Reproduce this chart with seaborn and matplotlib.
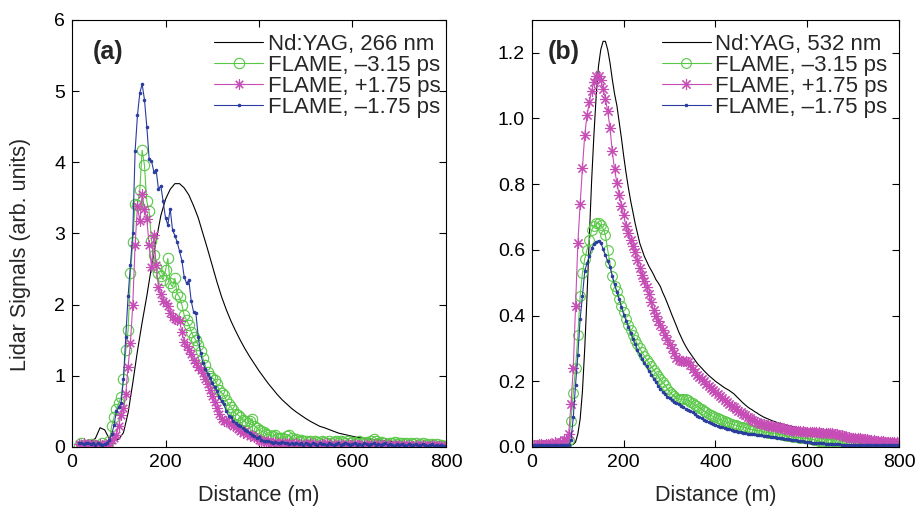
import matplotlib
matplotlib.use("Agg")
import matplotlib.pyplot as plt
import numpy as np
import seaborn as sns

# ──────────────────────────────────────────────────────────────────────────────
# Data
# ──────────────────────────────────────────────────────────────────────────────
# range gates (m)
DIST_A = np.arange(15, 801, 5)        # FLAME traces, panel (a)
DIST_B = np.arange(5, 801, 5)         # all traces, panel (b)
YAG_A_DIST = np.arange(20, 801, 10)   # Nd:YAG trace, panel (a)

LABELS_A = ["Nd:YAG, 266 nm", "FLAME, –3.15 ps", "FLAME, +1.75 ps", "FLAME, –1.75 ps"]
LABELS_B = ["Nd:YAG, 532 nm", "FLAME, –3.15 ps", "FLAME, +1.75 ps", "FLAME, –1.75 ps"]

YAG_A = [
    0.08, 0.08, 0.08, 0.12, 0.27, 0.24, 0.11, 0.09, 0.11, 0.20,
    0.48, 0.90, 1.35, 1.75, 2.12, 2.53, 2.90, 3.25, 3.48, 3.62,
    3.70, 3.70, 3.64, 3.54, 3.39, 3.22, 3.00, 2.78, 2.55, 2.32,
    2.11, 1.93, 1.77, 1.63, 1.50, 1.38, 1.27, 1.17, 1.07, 0.98,
    0.89, 0.81, 0.73, 0.66, 0.60, 0.54, 0.49, 0.445, 0.40, 0.36,
    0.325, 0.29, 0.27, 0.245, 0.22, 0.195, 0.18, 0.165, 0.15, 0.135,
    0.125, 0.12, 0.11, 0.10, 0.095, 0.085, 0.08, 0.075, 0.07, 0.065,
    0.06, 0.057, 0.05, 0.05, 0.047, 0.045, 0.04, 0.04, 0.04,
]

GREEN_A = [
    0.02, 0.05, 0.00, 0.03, -0.02, 0.04, 0.01, 0.03, -0.03, 0.02,
    0.05, -0.02, 0.01, 0.08, 0.30, 0.42, 0.54, 0.62, 0.70, 0.96,
    1.36, 1.64, 2.44, 2.88, 3.42, 3.40, 3.61, 4.17, 3.96, 3.45,
    3.31, 2.90, 2.70, 2.53, 2.45, 2.40, 2.35, 2.48, 2.65, 2.30,
    2.25, 2.37, 2.15, 2.11, 2.00, 1.85, 1.78, 1.72, 1.62, 1.55,
    1.50, 1.43, 1.35, 1.25, 1.15, 1.05, 1.00, 0.97, 0.94, 0.88,
    0.80, 0.76, 0.73, 0.66, 0.60, 0.56, 0.52, 0.47, 0.45, 0.42,
    0.38, 0.36, 0.33, 0.36, 0.40, 0.30, 0.27, 0.24, 0.22, 0.21,
    0.18, 0.17, 0.16, 0.15, 0.17, 0.13, 0.12, 0.13, 0.11, 0.15,
    0.17, 0.12, 0.10, 0.11, 0.09, 0.10, 0.08, 0.09, 0.07, 0.09,
    0.06, 0.08, 0.07, 0.05, 0.08, 0.07, 0.06, 0.08, 0.05, 0.07,
    0.09, 0.06, 0.08, 0.07, 0.05, 0.08, 0.06, 0.07, 0.05, 0.06,
    0.08, 0.05, 0.06, 0.07, 0.05, 0.09, 0.11, 0.08, 0.06, 0.07,
    0.05, 0.06, 0.04, 0.06, 0.05, 0.07, 0.04, 0.05, 0.06, 0.04,
    0.05, 0.03, 0.05, 0.04, 0.06, 0.03, 0.04, 0.05, 0.03, 0.04,
    0.02, 0.04, 0.03, 0.04, 0.02, 0.03, 0.01, 0.01,
]

MAGENTA_A = [
    0.04, 0.03, 0.05, 0.03, 0.04, 0.02, 0.04, 0.03, 0.02, 0.04,
    0.03, 0.02, 0.03, 0.05, 0.10, 0.13, 0.17, 0.30, 0.45, 0.55,
    0.75, 1.13, 1.46, 2.00, 2.84, 3.38, 3.17, 3.55, 3.35, 3.20,
    2.84, 2.53, 2.98, 2.55, 2.25, 2.15, 2.05, 2.03, 1.98, 1.88,
    1.83, 1.80, 1.79, 1.77, 1.62, 1.48, 1.42, 1.36, 1.30, 1.22,
    1.18, 1.12, 1.08, 1.04, 0.95, 0.88, 0.80, 0.72, 0.63, 0.55,
    0.47, 0.40, 0.37, 0.36, 0.33, 0.32, 0.30, 0.28, 0.25, 0.23,
    0.20, 0.22, 0.18, 0.16, 0.17, 0.14, 0.12, 0.10, 0.09, 0.08,
    0.07, 0.08, 0.06, 0.05, 0.07, 0.05, 0.04, 0.06, 0.05, 0.04,
    0.05, 0.03, 0.04, 0.05, 0.03, 0.04, 0.02, 0.04, 0.03, 0.05,
    0.03, 0.04, 0.02, 0.03, 0.04, 0.03, 0.05, 0.02, 0.03, 0.04,
    0.02, 0.03, 0.04, 0.03, 0.02, 0.04, 0.03, 0.02, 0.04, 0.03,
    0.03, 0.02, 0.04, 0.03, 0.02, 0.03, 0.04, 0.02, 0.03, 0.02,
    0.03, 0.04, 0.02, 0.03, 0.02, 0.03, 0.01, 0.03, 0.02, 0.03,
    0.02, 0.03, 0.02, 0.01, 0.03, 0.02, 0.02, 0.03, 0.01, 0.02,
    0.02, 0.03, 0.01, 0.02, 0.02, 0.01, 0.02, 0.01,
]

BLUE_A = [
    0.05, 0.06, 0.04, 0.05, 0.06, 0.04, 0.05, 0.03, 0.05, 0.04,
    0.03, 0.04, 0.06, 0.10, 0.18, 0.31, 0.50, 0.56, 0.62, 0.95,
    1.55, 2.12, 2.55, 3.00, 4.16, 4.66, 4.97, 5.10, 4.88, 4.50,
    4.05, 4.02, 3.87, 3.89, 3.62, 3.67, 3.45, 3.22, 3.12, 3.35,
    3.05, 2.97, 2.88, 2.75, 2.62, 2.39, 2.30, 2.34, 2.05, 1.90,
    1.88, 1.55, 1.32, 1.18, 1.10, 1.03, 0.97, 0.90, 0.84, 0.79,
    0.70, 0.64, 0.60, 0.50, 0.44, 0.42, 0.37, 0.34, 0.31, 0.29,
    0.26, 0.24, 0.22, 0.19, 0.17, 0.16, 0.13, 0.14, 0.10, 0.09,
    0.08, 0.09, 0.07, 0.06, 0.07, 0.05, 0.06, 0.07, 0.05, 0.06,
    0.04, 0.05, 0.04, 0.06, 0.04, 0.05, 0.03, 0.05, 0.04, 0.03,
    0.05, 0.04, 0.03, 0.05, 0.04, 0.04, 0.03, 0.05, 0.04, 0.03,
    0.04, 0.05, 0.03, 0.04, 0.05, 0.04, 0.03, 0.04, 0.05, 0.03,
    0.04, 0.03, 0.05, 0.04, 0.03, 0.04, 0.05, 0.03, 0.04, 0.03,
    0.04, 0.05, 0.03, 0.04, 0.03, 0.02, 0.04, 0.03, 0.04, 0.03,
    0.02, 0.04, 0.03, 0.03, 0.04, 0.02, 0.03, 0.04, 0.03, 0.02,
    0.03, 0.04, 0.02, 0.03, 0.02, 0.03, 0.02, 0.02,
]

YAG_B = [
    0.005, 0.005, 0.005, 0.005, 0.005, 0.005, 0.005, 0.005, 0.005, 0.005,
    0.005, 0.005, 0.005, 0.005, 0.005, 0.005, 0.006, 0.008, 0.015, 0.04,
    0.085, 0.17, 0.30, 0.46, 0.64, 0.81, 0.95, 1.07, 1.16, 1.21,
    1.235, 1.235, 1.21, 1.17, 1.12, 1.075, 1.04, 0.99, 0.94, 0.885,
    0.835, 0.79, 0.75, 0.715, 0.68, 0.65, 0.62, 0.60, 0.58, 0.565,
    0.55, 0.538, 0.525, 0.51, 0.50, 0.488, 0.47, 0.455, 0.438, 0.42,
    0.402, 0.385, 0.368, 0.35, 0.335, 0.32, 0.307, 0.295, 0.285, 0.275,
    0.265, 0.255, 0.247, 0.24, 0.232, 0.225, 0.218, 0.212, 0.206, 0.20,
    0.195, 0.19, 0.185, 0.18, 0.176, 0.172, 0.167, 0.162, 0.155, 0.148,
    0.141, 0.134, 0.128, 0.122, 0.117, 0.113, 0.108, 0.104, 0.099, 0.095,
    0.091, 0.088, 0.085, 0.082, 0.079, 0.077, 0.074, 0.072, 0.070, 0.068,
    0.066, 0.065, 0.063, 0.062, 0.060, 0.058, 0.057, 0.055, 0.053, 0.052,
    0.051, 0.050, 0.049, 0.048, 0.047, 0.046, 0.045, 0.045, 0.044, 0.043,
    0.041, 0.040, 0.039, 0.038, 0.037, 0.036, 0.035, 0.034, 0.033, 0.032,
    0.031, 0.030, 0.029, 0.028, 0.027, 0.026, 0.024, 0.023, 0.022, 0.021,
    0.019, 0.018, 0.017, 0.016, 0.015, 0.014, 0.013, 0.012, 0.011, 0.011,
]

GREEN_B = [
    0.005, 0.0, 0.005, 0.0, 0.005, 0.0, 0.005, 0.0, 0.005, 0.0,
    0.005, 0.0, 0.005, 0.0, 0.005, 0.02, 0.08, 0.165, 0.24, 0.34,
    0.46, 0.53, 0.572, 0.60, 0.63, 0.66, 0.672, 0.681, 0.682, 0.675,
    0.665, 0.645, 0.60, 0.56, 0.52, 0.49, 0.475, 0.452, 0.43, 0.41,
    0.39, 0.372, 0.355, 0.34, 0.326, 0.313, 0.30, 0.288, 0.277, 0.266,
    0.255, 0.245, 0.235, 0.225, 0.215, 0.206, 0.197, 0.188, 0.178, 0.168,
    0.16, 0.154, 0.149, 0.146, 0.145, 0.146, 0.145, 0.142, 0.138, 0.133,
    0.128, 0.124, 0.12, 0.115, 0.11, 0.105, 0.10, 0.096, 0.093, 0.09,
    0.087, 0.084, 0.081, 0.078, 0.075, 0.073, 0.07, 0.068, 0.066, 0.064,
    0.062, 0.061, 0.059, 0.057, 0.055, 0.053, 0.052, 0.05, 0.049, 0.048,
    0.046, 0.045, 0.044, 0.043, 0.042, 0.042, 0.041, 0.039, 0.037, 0.035,
    0.034, 0.033, 0.032, 0.031, 0.03, 0.029, 0.028, 0.027, 0.026, 0.026,
    0.025, 0.024, 0.022, 0.02, 0.018, 0.016, 0.015, 0.014, 0.013, 0.012,
    0.012, 0.011, 0.011, 0.01, 0.01, 0.009, 0.008, 0.007, 0.006, 0.005,
    0.004, 0.003, 0.002, 0.001, 0.0, 0.0, -0.001, -0.002, -0.002, -0.003,
    -0.003, -0.004, -0.004, -0.004, -0.004, -0.004, -0.003, -0.003, -0.003, -0.003,
]

MAGENTA_B = [
    0.005, 0.005, 0.01, 0.01, 0.005, 0.01, 0.01, 0.01, 0.01, 0.015,
    0.01, 0.015, 0.015, 0.02, 0.02, 0.04, 0.13, 0.24, 0.43, 0.62,
    0.74, 0.85, 0.95, 1.01, 1.05, 1.085, 1.11, 1.128, 1.128, 1.118,
    1.09, 1.06, 1.023, 0.971, 0.90, 0.845, 0.805, 0.768, 0.735, 0.705,
    0.672, 0.65, 0.63, 0.612, 0.593, 0.57, 0.545, 0.525, 0.505, 0.488,
    0.465, 0.44, 0.418, 0.398, 0.382, 0.37, 0.355, 0.34, 0.327, 0.315,
    0.30, 0.286, 0.272, 0.265, 0.262, 0.263, 0.262, 0.258, 0.25, 0.238,
    0.228, 0.22, 0.212, 0.206, 0.20, 0.193, 0.186, 0.179, 0.172, 0.166,
    0.16, 0.154, 0.148, 0.142, 0.136, 0.131, 0.126, 0.121, 0.115, 0.11,
    0.105, 0.10, 0.096, 0.091, 0.087, 0.083, 0.08, 0.077, 0.074, 0.071,
    0.069, 0.067, 0.065, 0.064, 0.063, 0.062, 0.061, 0.06, 0.058, 0.056,
    0.054, 0.052, 0.051, 0.05, 0.049, 0.048, 0.048, 0.048, 0.047, 0.047,
    0.047, 0.046, 0.046, 0.045, 0.045, 0.044, 0.044, 0.043, 0.043, 0.042,
    0.042, 0.041, 0.039, 0.037, 0.035, 0.033, 0.031, 0.029, 0.028, 0.027,
    0.027, 0.026, 0.026, 0.025, 0.024, 0.023, 0.022, 0.021, 0.02, 0.019,
    0.018, 0.018, 0.017, 0.016, 0.016, 0.015, 0.015, 0.014, 0.014, 0.013,
]

BLUE_B = [
    0.005, 0.005, 0.005, 0.005, 0.005, 0.005, 0.005, 0.005, 0.005, 0.005,
    0.005, 0.005, 0.005, 0.005, 0.005, 0.006, 0.02, 0.09, 0.19, 0.28,
    0.39, 0.46, 0.535, 0.56, 0.58, 0.605, 0.618, 0.625, 0.628, 0.622,
    0.603, 0.585, 0.565, 0.549, 0.52, 0.495, 0.472, 0.45, 0.425, 0.403,
    0.385, 0.366, 0.347, 0.33, 0.313, 0.296, 0.281, 0.268, 0.256, 0.245,
    0.232, 0.22, 0.208, 0.197, 0.187, 0.177, 0.168, 0.16, 0.153, 0.148,
    0.143, 0.138, 0.134, 0.13, 0.126, 0.121, 0.117, 0.113, 0.109, 0.105,
    0.10, 0.095, 0.091, 0.087, 0.083, 0.08, 0.077, 0.074, 0.071, 0.068,
    0.065, 0.062, 0.06, 0.058, 0.056, 0.054, 0.052, 0.05, 0.049, 0.047,
    0.045, 0.044, 0.043, 0.041, 0.04, 0.039, 0.038, 0.037, 0.036, 0.035,
    0.034, 0.033, 0.032, 0.031, 0.03, 0.029, 0.028, 0.027, 0.026, 0.025,
    0.024, 0.023, 0.022, 0.021, 0.02, 0.019, 0.018, 0.017, 0.016, 0.015,
    0.014, 0.013, 0.013, 0.012, 0.012, 0.011, 0.011, 0.01, 0.01, 0.009,
    0.009, 0.008, 0.008, 0.008, 0.007, 0.007, 0.007, 0.007, 0.006, 0.006,
    0.006, 0.006, 0.006, 0.006, 0.005, 0.005, 0.005, 0.005, 0.005, 0.005,
    0.005, 0.005, 0.005, 0.005, 0.005, 0.005, 0.005, 0.005, 0.005, 0.005,
]

GREEN = "#58c846"
MAGENTA = "#c64db6"
BLUE = "#2a3c9e"
ASTERISK = (8, 2, 0)

sns.set_style("ticks")
plt.rcParams["font.family"] = ["Liberation Sans", "DejaVu Sans"]


# ──────────────────────────────────────────────────────────────────────────────
# Helpers
# ──────────────────────────────────────────────────────────────────────────────
def _trace(ax, x, y, color, label, marker=None, ms=6, filled=False):
    kws = dict(color=color, linewidth=0.8, label=label, estimator=None, ax=ax)
    if marker is not None:
        kws.update(
            marker=marker,
            markersize=ms,
            markeredgecolor=color,
            markerfacecolor=color if filled else "none",
            markeredgewidth=0.8,
        )
    sns.lineplot(x=x, y=y, **kws)


def _style(ax, tag, tag_x, legend_x):
    ax.set_xlim(0, 800)
    ax.set_xticks([0, 200, 400, 600, 800])
    ax.tick_params(direction="in", top=True, right=True, length=5,
                   width=0.8, labelsize=14, colors="black", pad=5)
    for sp in ax.spines.values():
        sp.set_color("black")
        sp.set_linewidth(0.8)
    ax.set_xlabel("Distance (m)", fontsize=15.5, labelpad=10)
    ax.text(tag_x, 0.924, tag, transform=ax.transAxes, fontsize=18,
            fontweight="bold", va="center", ha="left")
    ax.legend(loc="upper right", bbox_to_anchor=(legend_x, 0.977),
              frameon=False, fontsize=16, handlelength=2.2,
              handletextpad=0.2, labelspacing=0.0, borderaxespad=0.0,
              borderpad=0.2)


# ──────────────────────────────────────────────────────────────────────────────
# Figure
# ──────────────────────────────────────────────────────────────────────────────
fig = plt.figure(figsize=(9.15, 5.13), dpi=100)
ax_a = fig.add_axes([0.0787, 0.1287, 0.4087, 0.8324])
ax_b = fig.add_axes([0.5814, 0.1287, 0.4011, 0.8324])

# (a) 266 nm
_trace(ax_a, YAG_A_DIST, YAG_A, "black", LABELS_A[0])
_trace(ax_a, DIST_A, GREEN_A, GREEN, LABELS_A[1], marker="o", ms=7.5)
_trace(ax_a, DIST_A, MAGENTA_A, MAGENTA, LABELS_A[2], marker=ASTERISK, ms=7.5)
_trace(ax_a, DIST_A, BLUE_A, BLUE, LABELS_A[3], marker=".", ms=3.5, filled=True)
ax_a.set_ylim(0, 6)
ax_a.set_yticks(range(0, 7))
ax_a.set_ylabel("Lidar Signals (arb. units)", fontsize=15.5)
ax_a.yaxis.set_label_coords(-0.11, 0.45)
_style(ax_a, "(a)", 0.056, 0.997)

# (b) 532 nm
_trace(ax_b, DIST_B, YAG_B, "black", LABELS_B[0])
_trace(ax_b, DIST_B, GREEN_B, GREEN, LABELS_B[1], marker="o", ms=7)
_trace(ax_b, DIST_B, MAGENTA_B, MAGENTA, LABELS_B[2], marker=ASTERISK, ms=8)
_trace(ax_b, DIST_B, BLUE_B, BLUE, LABELS_B[3], marker=".", ms=3.5, filled=True)
ax_b.set_ylim(0, 1.3)
ax_b.set_yticks([0.0, 0.2, 0.4, 0.6, 0.8, 1.0, 1.2])
ax_b.set_ylabel("")
_style(ax_b, "(b)", 0.044, 0.982)

fig.savefig("out.png", dpi=100)
plt.close(fig)
